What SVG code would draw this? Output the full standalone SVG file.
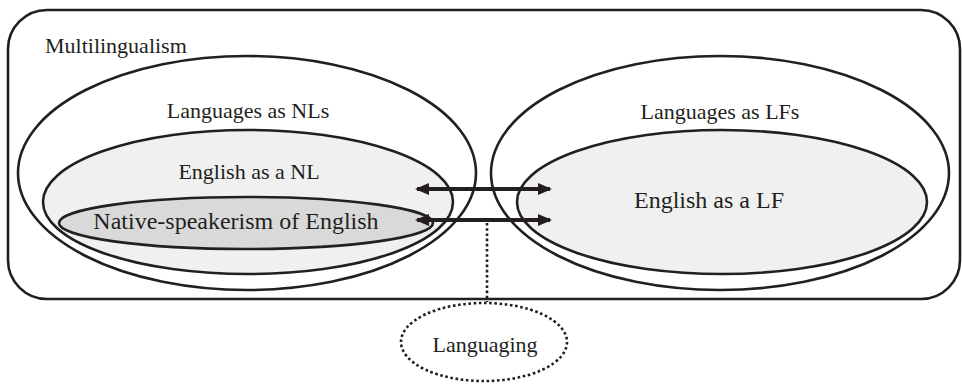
<svg xmlns="http://www.w3.org/2000/svg" width="962" height="384" viewBox="0 0 962 384">
<style>
  .ln { stroke: #231f20; stroke-width: 2.6; fill: none; }
  .lt { fill: #f0f0f0; }
  .dk { fill: #d9d9d9; }
  text { font-family: "Liberation Serif", "Times New Roman", serif; font-size: 22px; fill: #231f20; }
  .c { text-anchor: middle; }
  .big { font-size: 24px; }
  .arr { stroke: #231f20; stroke-width: 4; fill: none; marker-start: url(#ah); marker-end: url(#ah); }
  .dot { stroke: #231f20; stroke-width: 2.6; fill: none; stroke-dasharray: 2.6 2.6; }
</style>
<defs>
  <marker id="ah" viewBox="0 0 14 12" refX="12" refY="6" markerWidth="14" markerHeight="12" markerUnits="userSpaceOnUse" orient="auto-start-reverse">
    <path d="M0,0 L14,6 L0,12 Z" fill="#231f20"/>
  </marker>
</defs>
<rect width="962" height="384" fill="#ffffff"/>
<g id="multilingualism">
  <rect class="ln" x="8" y="10" width="952" height="289" rx="39" ry="39"/>
  <text x="45" y="53">Multilingualism</text>
</g>
<g id="languages-nls">
  <ellipse class="ln" fill="#ffffff" cx="247" cy="173" rx="229" ry="117"/>
  <text class="c" x="248" y="118">Languages as NLs</text>
</g>
<g id="english-nl">
  <ellipse class="ln lt" cx="248" cy="202" rx="205" ry="72"/>
  <text class="c" x="249" y="179">English as a NL</text>
</g>
<g id="native-speakerism">
  <ellipse class="ln dk" cx="246" cy="223" rx="187" ry="26"/>
  <text class="c big" x="236" y="229">Native-speakerism of English</text>
</g>
<g id="languages-lfs">
  <ellipse class="ln" cx="720" cy="173" rx="229" ry="117"/>
  <text class="c" x="720" y="119">Languages as LFs</text>
</g>
<g id="english-lf">
  <ellipse class="ln lt" cx="722" cy="202" rx="205" ry="72"/>
  <text class="c big" x="709" y="208">English as a LF</text>
</g>
<g id="languaging">
  <ellipse class="dot" cx="484" cy="342" rx="83" ry="39"/>
  <text class="c" x="485" y="352">Languaging</text>
</g>
<g id="connectors">
  <line class="arr" x1="417" y1="189" x2="550" y2="189"/>
  <line class="arr" x1="417" y1="220" x2="550" y2="220"/>
  <line class="dot" x1="487" y1="223" x2="487" y2="302"/>
</g>
</svg>
